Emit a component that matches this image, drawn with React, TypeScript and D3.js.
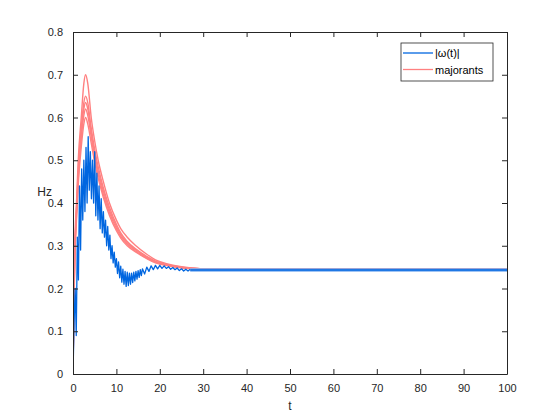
import { useEffect, useRef } from "react";
import * as d3 from "d3";

// tick labels
const xTicks = [0, 10, 20, 30, 40, 50, 60, 70, 80, 90, 100];
const yTicks = [0, 0.1, 0.2, 0.3, 0.4, 0.5, 0.6, 0.7, 0.8];

// |w(t)| - early, oscillating part
const blueT = [
  0, 0.25, 0.5, 0.75, 1, 1.25, 1.5, 1.75, 2, 2.25, 2.5, 2.75, 3, 3.25, 3.5, 3.75,
  4, 4.25, 4.5, 4.75, 5, 5.25, 5.5, 5.75, 6, 6.25, 6.5, 6.75, 7, 7.25, 7.5, 7.75,
  8, 8.25, 8.5, 8.75, 9, 9.25, 9.5, 9.75, 10, 10.25, 10.5, 10.75, 11, 11.25, 11.5, 11.75,
  12, 12.25, 12.5, 12.75, 13, 13.25, 13.5, 13.75, 14, 14.25, 14.5, 14.75, 15, 15.25, 15.5, 15.75,
  16, 16.5, 17, 17.5, 18, 18.5, 19, 19.5, 20, 20.5, 21, 21.5, 22, 22.5, 23, 23.5,
  24, 24.5, 25, 25.5, 26, 26.5, 27,
];
const blueV = [
  0, 0.12, 0.2, 0.09, 0.32, 0.22, 0.44, 0.29, 0.48, 0.36, 0.5, 0.38, 0.53, 0.4, 0.555, 0.43,
  0.52, 0.41, 0.5, 0.4, 0.52, 0.37, 0.47, 0.36, 0.44, 0.34, 0.41, 0.33, 0.38, 0.32, 0.36, 0.3,
  0.345, 0.29, 0.325, 0.27, 0.3, 0.26, 0.285, 0.25, 0.27, 0.235, 0.262, 0.225, 0.252, 0.215, 0.245, 0.21,
  0.24, 0.205, 0.238, 0.207, 0.236, 0.21, 0.236, 0.214, 0.238, 0.218, 0.24, 0.222, 0.242, 0.226, 0.244, 0.23,
  0.246, 0.234, 0.25, 0.24, 0.253, 0.244, 0.254, 0.246, 0.254, 0.247, 0.253, 0.247, 0.251, 0.245, 0.249, 0.244,
  0.248, 0.242, 0.246, 0.241, 0.245, 0.241, 0.245,
];
// |w(t)| - settled tail
const tailT = [27, 100];
const tailV = [0.243, 0.243];

// majorants
const redT = [0, 0.2, 0.4, 0.8, 1.2, 1.9, 2.5, 2.9, 3.4, 4.2, 5, 5.8, 7, 8.4, 10, 11, 12.5, 14.5, 17, 19, 22, 25, 30, 40, 60, 100];
const majorantA = [0, 0.18, 0.3, 0.4, 0.5, 0.6, 0.68, 0.7, 0.68, 0.6, 0.545, 0.5, 0.45, 0.4, 0.36, 0.34, 0.32, 0.3, 0.28, 0.267, 0.257, 0.251, 0.246, 0.245, 0.245, 0.245];
const majorantB = [0, 0.17, 0.28, 0.385, 0.475, 0.575, 0.635, 0.65, 0.635, 0.575, 0.525, 0.485, 0.435, 0.39, 0.35, 0.33, 0.31, 0.292, 0.275, 0.264, 0.255, 0.25, 0.246, 0.245, 0.245, 0.245];
const majorantC = [0, 0.165, 0.275, 0.38, 0.465, 0.565, 0.62, 0.635, 0.62, 0.565, 0.515, 0.475, 0.428, 0.383, 0.345, 0.326, 0.307, 0.29, 0.273, 0.263, 0.254, 0.249, 0.246, 0.245, 0.245, 0.245];
const majorantD = [0, 0.16, 0.27, 0.37, 0.455, 0.55, 0.605, 0.62, 0.605, 0.555, 0.505, 0.467, 0.42, 0.377, 0.34, 0.322, 0.304, 0.287, 0.271, 0.262, 0.254, 0.249, 0.246, 0.245, 0.245, 0.245];
const majorantE = [0, 0.155, 0.26, 0.36, 0.44, 0.53, 0.585, 0.6, 0.585, 0.54, 0.495, 0.458, 0.413, 0.371, 0.335, 0.318, 0.3, 0.285, 0.27, 0.26, 0.253, 0.248, 0.246, 0.245, 0.245, 0.245];
const majorants = [majorantA, majorantB, majorantC, majorantD, majorantE];

const BLUE = "#0066e0";
const RED = "#ff8080";
const AXIS = "#262626";
const FONT = "Liberation Sans, Arial, sans-serif";

const App = () => {
  const chartRef = useRef<SVGSVGElement | null>(null);

  useEffect(() => {
    const W = 560, H = 420;
    const margin = { top: 32, right: 53, bottom: 46, left: 73 };
    const width = W - margin.left - margin.right;
    const height = H - margin.top - margin.bottom;

    const root = d3.select(chartRef.current).attr("width", W).attr("height", H);
    root.selectAll("*").remove();

    root.append("rect").attr("width", W).attr("height", H).attr("fill", "white");

    const svg = root.append("g").attr("transform", `translate(${margin.left},${margin.top})`);

    const x = d3.scaleLinear().domain([0, 100]).range([0, width]);
    const y = d3.scaleLinear().domain([0, 0.8]).range([height, 0]);

    svg.append("clipPath").attr("id", "plot-clip")
      .append("rect").attr("width", width).attr("height", height);

    const plot = svg.append("g").attr("clip-path", "url(#plot-clip)");

    const smooth = d3.line<[number, number]>()
      .x(d => x(d[0]))
      .y(d => y(d[1]))
      .curve(d3.curveMonotoneX);

    majorants.forEach(vals => {
      plot.append("path")
        .datum(redT.map((t, i) => [t, vals[i]] as [number, number]))
        .attr("d", smooth)
        .attr("fill", "none")
        .attr("stroke", RED)
        .attr("stroke-width", 1.4);
    });

    const straight = d3.line<[number, number]>()
      .x(d => x(d[0]))
      .y(d => y(d[1]));

    plot.append("path")
      .datum(blueT.map((t, i) => [t, blueV[i]] as [number, number]))
      .attr("d", straight)
      .attr("fill", "none")
      .attr("stroke", BLUE)
      .attr("stroke-width", 1.3)
      .attr("stroke-linejoin", "round");

    const tail = tailT.map((t, i) => [t, tailV[i]] as [number, number]);
    plot.append("path")
      .datum(tail)
      .attr("d", straight)
      .attr("fill", "none")
      .attr("stroke", "#7fb0f0")
      .attr("stroke-width", 3.5);
    plot.append("path")
      .datum(tail)
      .attr("d", straight)
      .attr("fill", "none")
      .attr("stroke", BLUE)
      .attr("stroke-width", 1.5);

    // axes, MATLAB style box with inward ticks
    const styleAxis = (g: d3.Selection<SVGGElement, unknown, null, undefined>) => {
      g.select(".domain").attr("stroke", AXIS);
      g.selectAll(".tick line").attr("stroke", AXIS);
      g.selectAll("text").attr("fill", AXIS).style("font-family", FONT).style("font-size", "11px");
    };
    const fmtY = (d: d3.NumberValue) => (+d === 0 ? "0" : d3.format(".1f")(+d));

    svg.append("g")
      .attr("transform", `translate(0,${height})`)
      .call(d3.axisBottom(x).tickValues(xTicks).tickSizeInner(-5).tickSizeOuter(0).tickPadding(10))
      .call(styleAxis);
    svg.append("g")
      .call(d3.axisTop(x).tickValues(xTicks).tickSizeInner(-5).tickSizeOuter(0).tickFormat(() => ""))
      .call(styleAxis);
    svg.append("g")
      .call(d3.axisLeft(y).tickValues(yTicks).tickSizeInner(-5).tickSizeOuter(0).tickPadding(10).tickFormat(fmtY))
      .call(styleAxis);
    svg.append("g")
      .attr("transform", `translate(${width},0)`)
      .call(d3.axisRight(y).tickValues(yTicks).tickSizeInner(-5).tickSizeOuter(0).tickFormat(() => ""))
      .call(styleAxis);

    svg.append("text")
      .attr("x", width / 2)
      .attr("y", height + 36)
      .attr("text-anchor", "middle")
      .style("font-family", FONT)
      .style("font-size", "12px")
      .attr("fill", AXIS)
      .text("t");

    // horizontal y label, sits just above the 0.4 tick label
    svg.append("text")
      .attr("x", -21)
      .attr("y", y(0.4) - 7)
      .attr("text-anchor", "end")
      .style("font-family", FONT)
      .style("font-size", "12px")
      .attr("fill", AXIS)
      .text("Hz");

    // legend
    const legend = svg.append("g").attr("transform", `translate(${width - 106},11)`);
    legend.append("rect")
      .attr("width", 92)
      .attr("height", 38)
      .attr("fill", "white")
      .attr("stroke", AXIS)
      .attr("stroke-width", 0.8);
    const items = [
      { label: "|\u03c9(t)|", color: BLUE },
      { label: "majorants", color: RED },
    ];
    items.forEach((it, i) => {
      const yy = 10 + i * 16.5;
      legend.append("line")
        .attr("x1", 2).attr("x2", 32)
        .attr("y1", yy).attr("y2", yy)
        .attr("stroke", it.color)
        .attr("stroke-width", 1.3);
      legend.append("text")
        .attr("x", 34)
        .attr("y", yy + 4)
        .style("font-family", FONT)
        .style("font-size", "11px")
        .attr("fill", "#000")
        .text(it.label);
    });

    return () => {
      d3.select(chartRef.current).selectAll("*").remove();
    };
  }, []);

  return (
    <svg
      ref={chartRef}
      style={{ position: "absolute", left: 0, top: 0, display: "block" }}
    ></svg>
  );
};

export default App;
